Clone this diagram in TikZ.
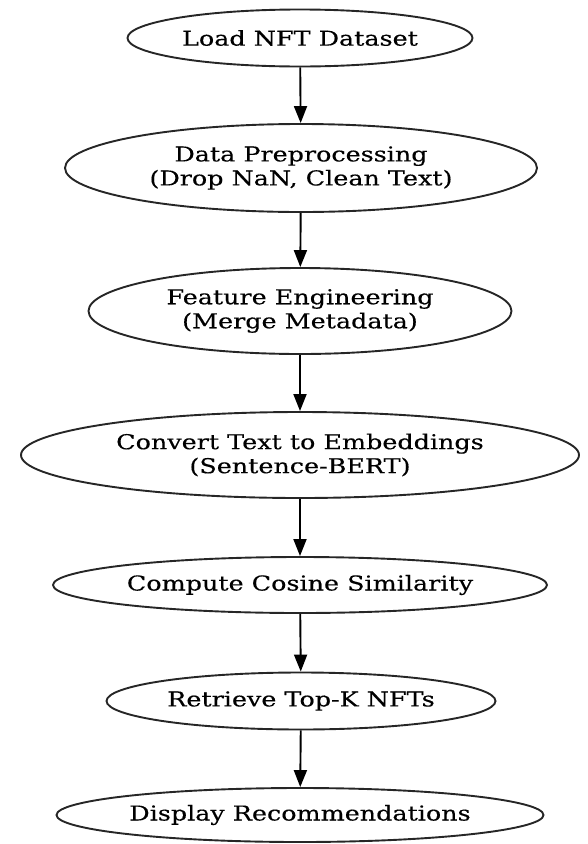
\documentclass[tikz,border=0pt]{standalone}
\usepackage{fontspec}
\setmainfont{DejaVu Serif}[FakeStretch=1.24,FakeBold=0.3]
\usetikzlibrary{shapes.geometric,arrows.meta}
\begin{document}
\begin{tikzpicture}[x=1pt,y=-1pt,
  stage/.style={ellipse,draw=black!85,line width=1.9pt,inner sep=0pt,align=center,
    font=\fontsize{20.5}{24}\selectfont},
  flow/.style={-{Triangle[length=17pt,width=13pt]},line width=1.9pt,black}]
\useasboundingbox (0,0) rectangle (587,844);
\node[stage,minimum width=345pt,minimum height=57pt] (a) at (300,38) {Load NFT Dataset};
\node[stage,minimum width=472pt,minimum height=88pt] (b) at (301,168) {Data Preprocessing\\(Drop NaN, Clean Text)};
\node[stage,minimum width=423pt,minimum height=86pt] (c) at (300,311) {Feature Engineering\\(Merge Metadata)};
\node[stage,minimum width=558pt,minimum height=86pt] (d) at (300,455) {Convert Text to Embeddings\\(Sentence-BERT)};
\node[stage,minimum width=494pt,minimum height=56pt] (e) at (300,585) {Compute Cosine Similarity};
\node[stage,minimum width=389pt,minimum height=57pt] (f) at (301,701) {Retrieve Top-K NFTs};
\node[stage,minimum width=487pt,minimum height=54pt] (g) at (300,815) {Display Recommendations};
\draw[flow] (a) -- (b);
\draw[flow] (b) -- (c);
\draw[flow] (c) -- (d);
\draw[flow] (d) -- (e);
\draw[flow] (e) -- (f);
\draw[flow] (f) -- (g);
\end{tikzpicture}
\end{document}
